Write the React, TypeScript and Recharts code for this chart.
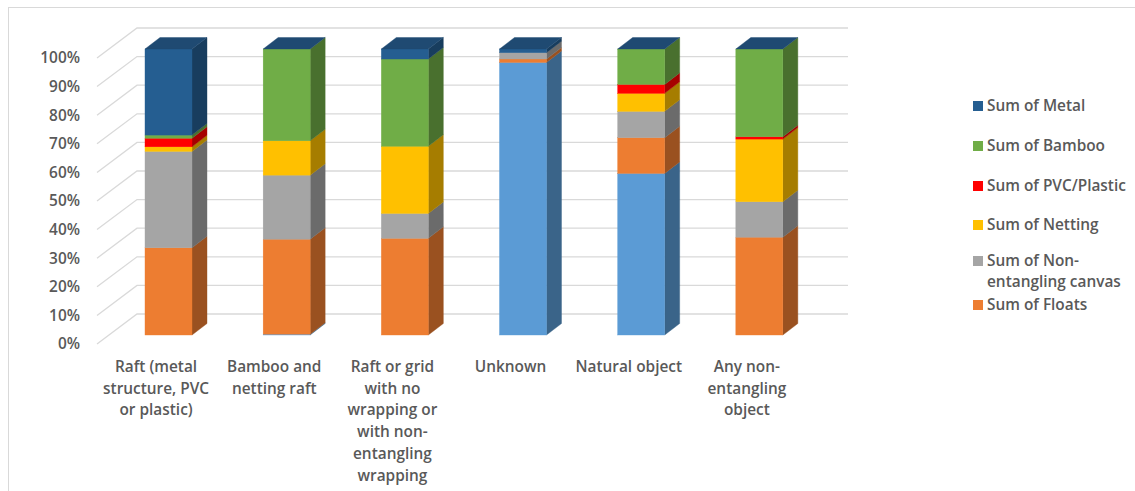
import React from 'react';
import { BarChart, Bar, XAxis, YAxis, CartesianGrid, Legend } from 'recharts';

const categories = [
  'Raft (metal structure, PVC or plastic)',
  'Bamboo and netting raft',
  'Raft or grid with no wrapping or with non-entangling wrapping',
  'Unknown',
  'Natural object',
  'Any non-entangling object',
];
const categoryLines = [
  ['Raft (metal', 'structure, PVC', 'or plastic)'],
  ['Bamboo and', 'netting raft'],
  ['Raft or grid', 'with no', 'wrapping or', 'with non-', 'entangling', 'wrapping'],
  ['Unknown'],
  ['Natural object'],
  ['Any non-', 'entangling', 'object'],
];

const unknownVals = [0, 0.3, 0, 95.3, 56.5, 0];
const floatsVals = [30.5, 33.2, 33.8, 1.2, 12.5, 34.2];
const canvasVals = [33.7, 22.4, 8.7, 2.2, 9.2, 12.4];
const nettingVals = [1.6, 12.0, 23.5, 0, 6.3, 21.9];
const pvcVals = [3.0, 0, 0, 0, 3.1, 0.8];
const bambooVals = [1.1, 32.1, 30.5, 0, 12.4, 30.7];
const metalVals = [30.1, 0, 3.5, 1.3, 0, 0];

const yTicks = [0, 10, 20, 30, 40, 50, 60, 70, 80, 90, 100];

const data = categories.map((c, i) => ({
  category: c,
  unknown: unknownVals[i],
  floats: floatsVals[i],
  canvas: canvasVals[i],
  netting: nettingVals[i],
  pvc: pvcVals[i],
  bamboo: bambooVals[i],
  metal: metalVals[i],
}));

const series = [
  { key: 'unknown', name: 'Sum of Unknown', front: '#5B9BD5', side: '#3A6489' },
  { key: 'floats', name: 'Sum of Floats', front: '#ED7D31', side: '#9A5120' },
  { key: 'canvas', name: 'Sum of Non-entangling canvas', front: '#A5A5A5', side: '#6B6B6B' },
  { key: 'netting', name: 'Sum of Netting', front: '#FFC000', side: '#A67D00' },
  { key: 'pvc', name: 'Sum of PVC/Plastic', front: '#FF0000', side: '#A60000' },
  { key: 'bamboo', name: 'Sum of Bamboo', front: '#70AD47', side: '#49702E' },
  { key: 'metal', name: 'Sum of Metal', front: '#255E91', side: '#183D5E' },
];

const legendItems = [
  { key: 'metal', lines: ['Sum of Metal'], y: 106 },
  { key: 'bamboo', lines: ['Sum of Bamboo'], y: 146 },
  { key: 'pvc', lines: ['Sum of PVC/Plastic'], y: 186 },
  { key: 'netting', lines: ['Sum of Netting'], y: 225 },
  { key: 'canvas', lines: ['Sum of Non-', 'entangling canvas'], y: 261 },
  { key: 'floats', lines: ['Sum of Floats'], y: 304.5 },
];

const TEXT_COLOR = '#595959';
const FONT = '"Open Sans", sans-serif';
const FS = 15.4;
const GRID = '#D9D9D9';
const TOP_FACE = '#1F4A72';

const OFF_X = 12;
const OFF_Y = 9;
const DEP_X = 15;
const DEP_Y = 11.5;

function make3D(front: string, side: string, isTop: boolean) {
  return (props: any) => {
    const { x, y, width, height } = props;
    if (x == null || y == null) return <g />;
    const h = Math.max(0, Number(height) || 0);
    const fx = x + OFF_X;
    const fy = y - OFF_Y;
    return (
      <g>
        {h > 0 && (
          <path
            d={`M${fx + width},${fy + h} L${fx + width + DEP_X},${fy + h - DEP_Y} L${fx + width + DEP_X},${fy - DEP_Y} L${fx + width},${fy} Z`}
            fill={side}
            stroke={side}
            strokeWidth={0.4}
          />
        )}
        {h > 0 && <rect x={fx} y={fy} width={width} height={h} fill={front} stroke={front} strokeWidth={0.4} />}
        {isTop && (
          <path
            d={`M${fx},${fy} L${fx + width},${fy} L${fx + width + DEP_X},${fy - DEP_Y} L${fx + DEP_X},${fy - DEP_Y} Z`}
            fill={TOP_FACE}
            stroke={TOP_FACE}
            strokeWidth={0.4}
          />
        )}
      </g>
    );
  };
}

const XTick = (props: any) => {
  const { x, y, index } = props;
  const lines = categoryLines[index] || [];
  return (
    <text x={x} y={y} textAnchor="middle" fill={TEXT_COLOR} fontFamily={FONT} fontSize={FS} fontWeight={600}>
      {lines.map((l, i) => (
        <tspan key={i} x={x} y={y + 28 + i * 21.7}>
          {l}
        </tspan>
      ))}
    </text>
  );
};

const renderGridLine = (p: any) => {
  const { x1, y1, x2 } = p;
  return (
    <path
      key={`g-${y1}`}
      d={`M${x1},${y1} L${x1 + 40},${y1 - 30} L${x2 + 42},${y1 - 30}`}
      stroke={GRID}
      strokeWidth={1.3}
      fill="none"
    />
  );
};

const renderLegend = () => (
  <div style={{ position: 'relative', width: 0, height: 0 }}>
    {legendItems.map((it) => {
      const s = series.find((q) => q.key === it.key)!;
      return (
        <div key={it.key}>
          <div
            style={{ position: 'absolute', left: 973, top: it.y - 5, width: 10, height: 10, background: s.front }}
          />
          {it.lines.map((l, i) => (
            <div
              key={i}
              style={{
                position: 'absolute',
                left: 987,
                top: it.y - 8 + i * 21,
                whiteSpace: 'nowrap',
                fontFamily: FONT,
                fontSize: FS,
                fontWeight: 600,
                color: TEXT_COLOR,
                lineHeight: '16px',
              }}
            >
              {l}
            </div>
          ))}
        </div>
      );
    })}
  </div>
);

export default function App() {
  return (
    <div style={{ position: 'absolute', left: 0, top: 0, width: 1135, height: 491, background: '#fff', overflow: 'hidden' }}>
      <div
        style={{
          position: 'absolute',
          left: 8,
          top: 7,
          width: 1200,
          height: 600,
          border: `1px solid ${GRID}`,
          boxSizing: 'border-box',
        }}
      />
      <div style={{ position: 'absolute', left: 0, top: 0 }}>
        <BarChart
          width={1135}
          height={491}
          data={data}
          margin={{ top: 58, right: 329, bottom: 7, left: 0 }}
          barSize={47}
        >
          <CartesianGrid vertical={false} horizontal={renderGridLine} />
          <XAxis
            dataKey="category"
            axisLine={false}
            tickLine={false}
            tickSize={0}
            tickMargin={0}
            height={140}
            interval={0}
            tick={<XTick />}
          />
          <YAxis
            type="number"
            domain={[0, 100]}
            ticks={yTicks}
            width={97}
            axisLine={false}
            tickLine={false}
            tickMargin={11}
            tickFormatter={(v: number) => `${v}%`}
            tick={{ fill: TEXT_COLOR, fontFamily: FONT, fontSize: FS, fontWeight: 600 }}
          />
          <Legend
            content={renderLegend}
            wrapperStyle={{ position: 'absolute', left: 0, top: 0, width: 0, height: 0, overflow: 'visible' }}
          />
          {series.map((s) => (
            <Bar
              key={s.key}
              dataKey={s.key}
              name={s.name}
              stackId="a"
              fill={s.front}
              isAnimationActive={false}
              shape={make3D(s.front, s.side, s.key === 'metal')}
            />
          ))}
        </BarChart>
      </div>
    </div>
  );
}
